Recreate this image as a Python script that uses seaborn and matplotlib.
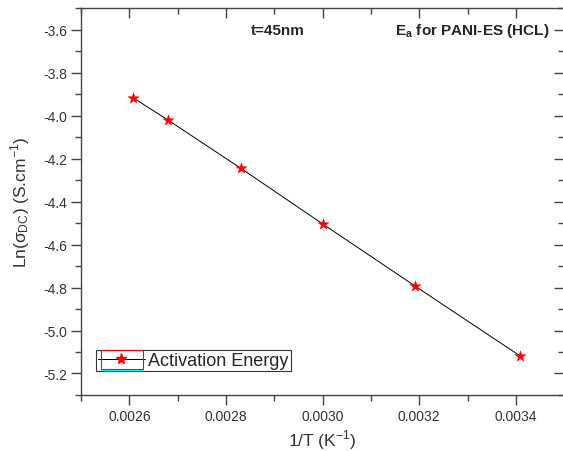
import numpy as np
import pandas as pd
import matplotlib.pyplot as plt
from matplotlib.lines import Line2D
from matplotlib.patches import Rectangle
from matplotlib.ticker import MultipleLocator
import seaborn as sns

sns.set_style("ticks")
plt.rcParams["font.family"] = ["Liberation Sans", "DejaVu Sans"]
plt.rcParams["axes.unicode_minus"] = False

# data
inv_T = [0.002608, 0.00268, 0.002831, 0.0030, 0.003192, 0.003408]
ln_sigma = [-3.918, -4.021, -4.246, -4.504, -4.794, -5.117]
series_label = "Activation Energy"

df = pd.DataFrame({"inv_T": inv_T, "ln_sigma": ln_sigma})

fig = plt.figure(figsize=(5.63, 4.52), dpi=100)
ax = fig.add_axes([0.1440, 0.1239, 0.8580, 0.8561])

sns.lineplot(data=df, x="inv_T", y="ln_sigma", ax=ax, color="black",
             linewidth=0.7, sort=False)
sns.scatterplot(data=df, x="inv_T", y="ln_sigma", ax=ax, marker="*",
                color="red", s=70, edgecolor="red", linewidth=0.3, zorder=3)

ax.set_xlim(0.0025, 0.0035)
ax.set_ylim(-5.3, -3.5)
ax.xaxis.set_major_locator(MultipleLocator(0.0002))
ax.xaxis.set_minor_locator(MultipleLocator(0.0001))
ax.yaxis.set_major_locator(MultipleLocator(0.2))
ax.yaxis.set_minor_locator(MultipleLocator(0.1))
ax.set_xticks([0.0026, 0.0028, 0.0030, 0.0032, 0.0034])
ax.set_xticklabels(["0.0026", "0.0028", "0.0030", "0.0032", "0.0034"])

for s in ax.spines.values():
    s.set_color("#444444")
    s.set_linewidth(1.0)
ax.tick_params(which="both", colors="#444444", labelcolor="#333333", labelsize=10, pad=3)
ax.tick_params(which="major", length=7, width=1.0)
ax.tick_params(which="minor", length=4, width=1.0)
ax.tick_params(which="both", top=True, right=True)
ax.tick_params(axis="x", which="both", direction="out")
ax.tick_params(axis="y", which="both", direction="out")
for t in ax.xaxis.get_ticklines(minor=False)[1::2] + ax.xaxis.get_ticklines(minor=True)[1::2]:
    t.set_marker(3)  # top ticks point into the plot
for t in ax.yaxis.get_ticklines(minor=False)[1::2] + ax.yaxis.get_ticklines(minor=True)[1::2]:
    t.set_marker(0)  # right ticks point into the plot

ax.set_xlabel("1/T (K$^\\mathregular{-1}$)", fontsize=12.5, color="#333333")
ax.xaxis.set_label_coords(0.5, -0.083)
ax.set_ylabel("Ln($\\mathregular{\\sigma_{DC}}$) (S.cm$^\\mathregular{-1}$)", fontsize=12.5,
              color="#333333", labelpad=8)

ax.text(0.002907, -3.6, "t=45nm", fontsize=11, fontweight="bold", ha="center", va="center")
ax.text(0.003309, -3.6, "E$_\\mathregular{a}$ for PANI-ES (HCL)", fontsize=11,
        fontweight="bold", ha="center", va="center")

handle = Line2D([], [], color="black", linewidth=0.7, marker="*", markersize=8,
                markerfacecolor="red", markeredgecolor="red")
leg = ax.legend([handle], [series_label], loc="lower left",
                bbox_to_anchor=(0.031, 0.062), fontsize=13, frameon=True,
                fancybox=False, borderpad=0.1, handlelength=2.6,
                handletextpad=0.2, borderaxespad=0)
leg.get_frame().set_edgecolor("black")
leg.get_frame().set_linewidth(0.8)

# red box and cyan underline around the legend symbol, as in the source
fig.patches.append(Rectangle((101 / 563, 1 - 370 / 452), 42 / 563, 19 / 452,
                             transform=fig.transFigure, fill=False,
                             edgecolor="red", linewidth=0.8))
fig.lines.append(Line2D([101 / 563, 143 / 563], [1 - 370.5 / 452, 1 - 370.5 / 452],
                        transform=fig.transFigure, color="cyan", linewidth=0.8))

plt.savefig("out.png", dpi=100)
